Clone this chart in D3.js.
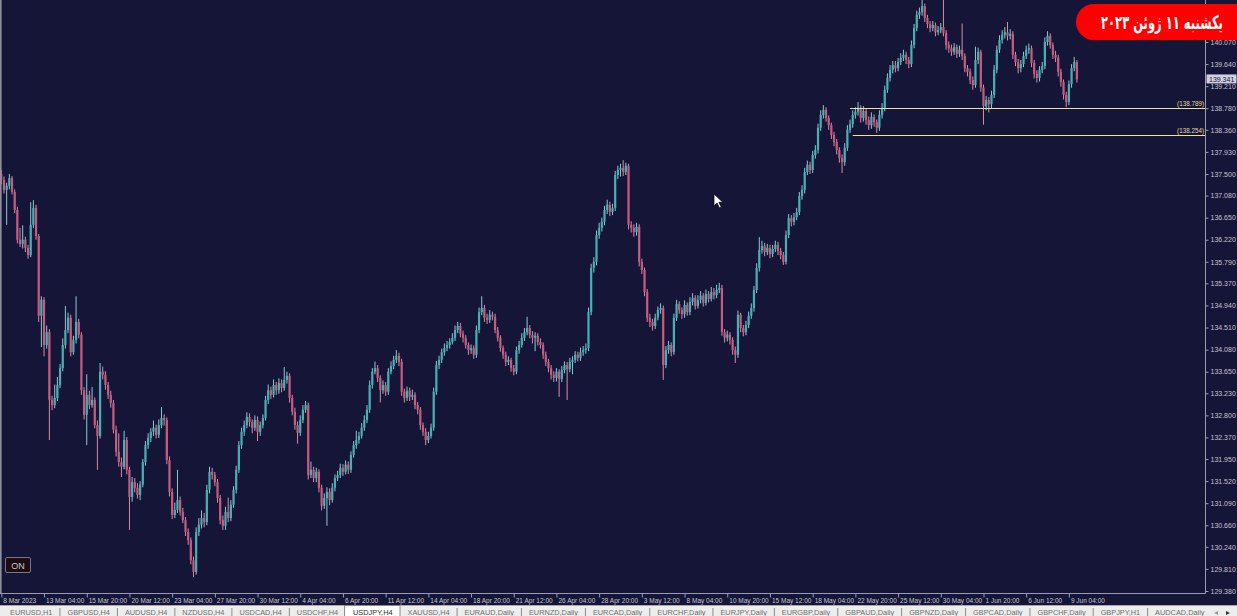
<!DOCTYPE html>
<html><head><meta charset="utf-8">
<script src="https://cdn.jsdelivr.net/npm/d3@7"></script>
<style>html,body{margin:0;padding:0;background:#151538;overflow:hidden}</style>
</head><body>
<svg id="chart" width="1237" height="616"></svg>
<script>
// ---------------- DATA (USDJPY, H4) ----------------
const firstOpen = 137.50;
const closes = [
137.38,137.19,137.27,137.42,137.15,136.80,136.22,136.14,136.22,136.06,
135.92,136.51,136.84,136.29,134.74,135.05,134.17,134.42,133.10,133.00,
133.14,133.39,133.72,134.17,134.46,134.70,134.03,134.27,134.62,134.37,
133.29,132.81,133.20,133.00,133.10,132.61,132.40,133.65,133.59,133.39,
133.20,133.04,132.52,132.09,131.89,131.80,132.32,131.74,131.21,131.50,
131.39,131.25,131.45,131.89,132.22,132.36,132.48,132.56,132.42,132.61,
132.75,132.71,131.93,131.31,130.86,130.96,131.15,130.92,130.76,130.53,
130.37,129.98,129.75,130.53,130.67,130.80,130.72,131.35,131.70,131.64,
131.50,131.19,130.76,130.65,130.92,130.80,131.06,131.35,131.74,132.22,
132.48,132.61,132.77,132.67,132.56,132.71,132.48,132.61,132.75,133.10,
133.29,133.20,133.39,133.29,133.43,133.33,133.49,133.57,133.14,132.87,
132.61,132.46,132.71,132.91,133.00,131.64,131.74,131.58,131.70,131.39,
131.04,131.19,131.31,131.15,131.39,131.58,131.64,131.78,131.70,131.84,
131.74,132.03,132.22,132.32,132.40,132.56,132.71,132.91,133.39,133.65,
133.72,133.53,133.29,133.39,133.26,133.65,133.76,133.88,133.96,133.84,
133.26,133.14,133.28,133.16,133.20,133.00,132.91,132.61,132.48,132.32,
132.40,132.56,133.26,133.78,133.88,134.03,134.11,134.17,134.23,134.31,
134.46,134.54,134.39,134.31,134.17,134.07,134.11,133.98,134.46,134.81,
134.89,134.70,134.66,134.76,134.72,134.46,134.31,134.11,133.98,133.84,
133.88,133.72,133.65,134.07,134.17,134.31,134.42,134.50,134.37,134.31,
134.35,134.23,134.17,133.98,133.84,133.72,133.59,133.53,133.65,133.51,
133.68,133.78,133.70,133.84,133.88,133.98,133.92,134.03,134.07,134.11,
134.81,135.67,135.79,136.31,136.45,136.57,136.80,136.90,136.76,136.84,
137.48,137.58,137.62,137.54,137.66,136.51,136.45,136.37,136.47,135.79,
135.63,135.20,134.70,134.62,134.54,134.70,134.85,134.89,133.78,134.07,
134.17,134.03,134.70,134.97,134.85,134.77,134.95,134.81,135.01,135.09,
134.93,135.05,135.13,134.99,135.16,135.07,135.20,135.14,135.24,135.28,
134.42,134.31,134.37,134.27,134.07,133.98,134.76,134.50,134.42,134.56,
134.74,134.89,135.24,135.67,136.02,136.10,135.98,136.06,135.94,136.04,
136.12,136.00,135.92,135.79,136.31,136.64,136.57,136.66,136.76,137.07,
137.19,137.54,137.68,137.58,137.87,137.97,138.40,138.65,138.75,138.59,
138.45,138.26,138.12,137.97,137.81,137.73,138.01,138.36,138.47,138.65,
138.71,138.79,138.59,138.73,138.55,138.45,138.61,138.51,138.40,138.65,
138.79,139.14,139.37,139.53,139.62,139.56,139.68,139.76,139.82,139.72,
139.64,140.01,140.34,140.60,140.65,140.77,140.54,140.42,140.34,140.40,
140.26,140.30,140.36,140.25,140.01,139.95,139.88,139.97,139.84,139.92,
139.80,139.56,139.49,139.33,139.23,139.72,139.88,139.18,138.82,138.94,
138.86,139.04,139.53,139.92,140.11,140.21,140.26,140.19,140.23,139.82,
139.68,139.56,139.64,139.80,139.92,139.95,139.66,139.45,139.37,139.53,
139.60,140.07,140.19,140.01,139.82,139.76,139.49,139.29,139.04,138.90,
139.25,139.56,139.68,139.34];
const highs = [
137.58,137.45,137.33,137.50,137.46,137.20,136.86,136.45,136.50,136.28,
136.12,136.95,136.99,136.90,136.33,135.12,135.10,134.55,134.48,133.18,
133.40,133.55,133.80,134.30,134.93,134.80,134.76,134.35,135.12,134.68,
134.42,133.35,133.60,133.28,133.35,133.15,132.70,133.82,133.75,133.66,
133.45,133.28,133.10,132.60,132.45,131.98,132.50,132.38,131.80,131.60,
131.58,131.48,131.52,131.95,132.30,132.45,132.55,132.70,132.62,132.72,
132.96,132.82,132.76,132.00,131.38,131.10,131.74,131.22,131.00,130.82,
130.60,130.42,130.05,130.62,130.80,130.95,130.90,131.45,131.80,131.78,
131.70,131.56,131.25,130.85,131.02,131.20,131.15,131.42,131.82,132.30,
132.56,132.70,132.86,132.84,132.72,132.80,132.78,132.68,132.82,133.18,
133.40,133.36,133.50,133.45,133.52,133.50,133.74,133.65,133.62,133.20,
132.95,132.68,132.80,133.00,133.08,133.05,131.90,131.80,131.78,131.75,
131.45,131.28,131.40,131.38,131.48,131.65,131.72,131.86,131.85,131.92,
131.90,132.10,132.30,132.50,132.48,132.65,132.80,133.00,133.48,133.72,
133.85,133.78,133.58,133.48,133.45,133.72,133.85,133.96,134.07,134.02,
133.90,133.32,133.36,133.34,133.30,133.25,133.06,132.96,132.66,132.55,
132.48,132.64,133.34,133.86,133.96,134.10,134.20,134.25,134.30,134.40,
134.55,134.62,134.60,134.45,134.36,134.22,134.18,134.16,134.55,134.90,
135.12,134.95,134.78,134.85,134.82,134.78,134.52,134.36,134.16,134.04,
133.95,133.92,133.78,134.14,134.25,134.40,134.50,134.72,134.56,134.44,
134.42,134.40,134.30,134.22,134.04,133.90,133.78,133.66,133.72,133.70,
133.76,133.85,133.84,133.92,133.95,134.05,134.04,134.12,134.15,134.20,
134.90,135.75,135.88,136.40,136.55,136.65,136.88,137.00,136.96,136.92,
137.56,137.66,137.70,137.77,137.72,137.70,136.58,136.52,136.55,136.52,
135.85,135.68,135.26,134.78,134.68,134.78,134.92,134.98,134.94,134.15,
134.25,134.22,134.78,135.05,135.02,134.90,135.04,135.00,135.10,135.18,
135.14,135.14,135.22,135.18,135.25,135.22,135.30,135.28,135.34,135.38,
135.34,134.48,134.45,134.42,134.32,134.14,134.84,134.80,134.56,134.64,
134.82,134.98,135.32,135.76,136.27,136.20,136.16,136.14,136.12,136.12,
136.20,136.18,136.06,135.98,136.40,136.72,136.70,136.74,136.84,137.15,
137.28,137.62,137.76,137.74,137.95,138.06,138.48,138.74,138.84,138.80,
138.64,138.50,138.32,138.18,138.02,137.88,138.10,138.45,138.56,138.74,
138.80,138.90,138.84,138.82,138.78,138.62,138.70,138.66,138.56,138.74,
138.88,139.22,139.46,139.62,139.70,139.70,139.76,139.85,139.92,139.88,
139.78,140.10,140.42,140.68,140.74,140.89,140.82,140.60,140.48,140.48,
140.45,140.38,140.44,140.89,140.30,140.08,140.02,140.05,140.02,140.00,
140.43,139.85,139.62,139.55,139.40,139.98,139.96,139.92,139.24,139.02,
139.00,139.12,139.62,140.00,140.20,140.30,140.36,140.46,140.32,140.28,
139.88,139.74,139.72,139.88,140.00,140.04,140.00,139.72,139.52,139.60,
139.68,140.16,140.28,140.24,140.06,139.90,139.82,139.55,139.34,139.10,
139.32,139.64,139.78,139.72];
const lows = [
137.30,137.12,136.51,137.20,137.10,136.74,136.15,136.08,136.05,135.98,
135.85,135.88,136.45,136.22,134.62,134.13,133.95,134.10,132.32,132.90,
132.94,133.08,133.33,133.66,134.10,134.40,133.95,133.98,134.20,134.30,
133.20,132.72,132.22,132.92,132.95,132.55,131.74,132.35,133.50,133.30,
133.12,132.95,132.45,132.00,131.80,131.60,131.75,131.65,130.57,131.12,
131.30,131.18,131.15,131.40,131.82,132.15,132.28,132.40,132.35,132.36,
132.55,132.60,131.85,131.22,130.78,130.80,130.90,130.85,130.70,130.45,
130.28,129.90,129.65,129.70,130.45,130.60,130.62,130.66,131.28,131.55,
131.42,131.10,130.68,130.57,130.57,130.72,130.74,131.00,131.28,131.68,
132.15,132.40,132.55,132.58,132.45,132.50,132.30,132.40,132.55,132.70,
133.02,133.12,133.15,133.20,133.22,133.25,133.28,133.42,133.05,132.80,
132.52,132.25,132.40,132.65,132.85,131.55,131.58,131.50,131.50,131.30,
130.95,130.98,130.65,131.05,131.10,131.32,131.52,131.58,131.62,131.65,
131.66,131.68,131.98,132.15,132.25,132.35,132.50,132.65,132.85,133.32,
133.60,133.45,133.05,133.22,133.18,133.20,133.60,133.70,133.82,133.76,
133.18,133.05,133.08,133.08,133.10,132.92,132.82,132.52,132.40,132.22,
132.26,132.35,132.50,133.20,133.70,133.82,133.96,134.05,134.10,134.18,
134.25,134.40,134.32,134.22,134.10,133.98,134.00,133.90,133.92,134.40,
134.75,134.62,134.58,134.60,134.65,134.40,134.24,134.04,133.90,133.76,
133.78,133.65,133.58,133.60,134.00,134.12,134.25,134.36,134.30,134.20,
134.05,134.16,134.10,133.90,133.76,133.64,133.50,133.45,133.46,133.16,
133.45,133.62,133.10,133.64,133.60,133.82,133.85,133.86,133.96,134.00,
134.05,134.75,135.58,135.72,136.24,136.38,136.50,136.72,136.68,136.70,
136.78,137.40,137.45,137.46,137.48,136.42,136.36,136.28,136.30,135.70,
135.55,135.12,134.62,134.52,134.45,134.48,134.65,134.78,133.49,133.72,
134.00,133.95,133.98,134.64,134.78,134.68,134.70,134.74,134.75,134.94,
134.86,134.88,134.98,134.92,134.94,135.00,135.02,135.06,135.08,135.18,
134.35,134.22,134.24,134.18,133.98,133.82,133.92,134.42,134.34,134.36,
134.50,134.68,134.82,135.18,135.60,135.95,135.90,135.92,135.86,135.88,
135.98,135.92,135.84,135.73,135.74,136.25,136.48,136.50,136.60,136.70,
137.00,137.12,137.48,137.50,137.52,137.80,137.90,138.34,138.58,138.52,
138.36,138.18,138.04,137.88,137.72,137.52,137.66,137.95,138.30,138.40,
138.58,138.64,138.50,138.52,138.46,138.36,138.38,138.42,138.30,138.34,
138.58,138.72,139.08,139.30,139.46,139.48,139.50,139.62,139.70,139.64,
139.56,139.58,139.95,140.28,140.52,140.58,140.46,140.34,140.26,140.28,
140.18,140.20,140.24,140.18,139.92,139.86,139.80,139.82,139.76,139.78,
139.72,139.48,139.40,139.25,139.14,139.18,139.64,139.10,138.46,138.74,
138.70,138.78,138.98,139.46,139.86,140.04,140.14,140.10,140.12,139.74,
139.60,139.46,139.48,139.58,139.74,139.84,139.58,139.36,139.28,139.30,
139.46,139.54,140.00,139.94,139.74,139.68,139.40,139.20,138.95,138.80,
138.84,139.18,139.50,139.28];

const xTickBars = [0,16,32,48,64,80,96,112,128,144,160,176,192,208,224,240,256,272,288,304,320,336,352,368,384,400];
const xTickLabels = ["8 Mar 2023","13 Mar 04:00","15 Mar 20:00","20 Mar 12:00","23 Mar 04:00","27 Mar 20:00","30 Mar 12:00","4 Apr 04:00","6 Apr 20:00","11 Apr 12:00","14 Apr 04:00","18 Apr 20:00","21 Apr 12:00","26 Apr 04:00","28 Apr 20:00","3 May 12:00","8 May 04:00","10 May 20:00","15 May 12:00","18 May 04:00","22 May 20:00","25 May 12:00","30 May 04:00","1 Jun 20:00","6 Jun 12:00","9 Jun 04:00"];
const yTickLabels = ["140.070","139.640","139.210","138.780","138.360","137.930","137.500","137.080","136.650","136.220","135.790","135.370","134.940","134.510","134.080","133.650","133.230","132.800","132.370","131.950","131.520","131.090","130.660","130.240","129.810","129.380"];
const levelPrices = [138.789, 138.254];
const levelStartBars = [318, 319];
const lastPrice = 139.341;
const tabLabels = ["EURUSD,H1","GBPUSD,H4","AUDUSD,H4","NZDUSD,H4","USDCAD,H4","USDCHF,H4","USDJPY,H4","XAUUSD,H4","EURAUD,Daily","EURNZD,Daily","EURCAD,Daily","EURCHF,Daily","EURJPY,Daily","EURGBP,Daily","GBPAUD,Daily","GBPNZD,Daily","GBPCAD,Daily","GBPCHF,Daily","GBPJPY,H1","AUDCAD,Daily"];
const activeTab = "USDJPY,H4";
const badgeText = "یکشنبه ۱۱ ژوئن ۲۰۲۳";

// ---------------- DRAW ----------------
const W = 1237, H = 616, plotR = 1205, plotB = 593;
const BG = "#151538", BULL = "#46b0b3", BEAR = "#c65c7f", BULLW = "#86cccf", BEARW = "#d88ba5";
const FONT = "Liberation Sans, Arial, sans-serif";
const svg = d3.select("#chart");
svg.append("rect").attr("width", W).attr("height", H).attr("fill", BG);

const x = d3.scaleLinear().domain([-0.5, 451]).range([0, plotR]);
const y = d3.scaleLinear().domain([129.38, 140.07]).range([591, 42]);

svg.append("defs").append("clipPath").attr("id", "clip")
  .append("rect").attr("x", 0).attr("y", 0).attr("width", plotR).attr("height", plotB);

const data = closes.map((c, i) => ({ i, o: i ? closes[i - 1] : firstOpen, h: highs[i], l: lows[i], c }));
const plot = svg.append("g").attr("clip-path", "url(#clip)");

plot.append("g").selectAll("rect").data(data).join("rect")
  .attr("x", d => x(d.i) - 0.5).attr("width", 1)
  .attr("y", d => y(Math.max(d.h, d.o, d.c)))
  .attr("height", d => Math.max(1, y(Math.min(d.l, d.o, d.c)) - y(Math.max(d.h, d.o, d.c))))
  .attr("fill", d => d.c >= d.o ? BULLW : BEARW);

plot.append("g").selectAll("rect").data(data).join("rect")
  .attr("x", d => x(d.i) - 1.1).attr("width", 2.2)
  .attr("y", d => y(Math.max(d.o, d.c)))
  .attr("height", d => Math.max(1, Math.abs(y(d.o) - y(d.c))))
  .attr("fill", d => d.c >= d.o ? BULL : BEAR);

// horizontal levels
levelPrices.forEach((p, k) => {
  plot.append("line").attr("x1", x(levelStartBars[k])).attr("x2", plotR)
    .attr("y1", Math.round(y(p)) + 0.5).attr("y2", Math.round(y(p)) + 0.5)
    .attr("stroke", "#ece49a").attr("stroke-width", 1);
  svg.append("text").attr("x", plotR - 1).attr("y", y(p) - 2)
    .attr("text-anchor", "end").attr("font-family", FONT)
    .attr("font-size", 6.3).attr("fill", "#e6dc98").text("(" + p.toFixed(3) + ")");
});

// left border
svg.append("rect").attr("x", 0).attr("y", 0).attr("width", 1.6).attr("height", plotB).attr("fill", "#8f8fa0");

// axes lines
svg.append("line").attr("x1", plotR + 0.5).attr("x2", plotR + 0.5).attr("y1", 0).attr("y2", plotB + 0.5)
  .attr("stroke", "#9c9cb0").attr("stroke-width", 1);
svg.append("line").attr("x1", 0).attr("x2", plotR + 0.5).attr("y1", plotB + 0.5).attr("y2", plotB + 0.5)
  .attr("stroke", "#9c9cb0").attr("stroke-width", 1);

// y axis
const yAxis = d3.axisRight(y).tickValues(yTickLabels.map(Number))
  .tickFormat((d, i) => yTickLabels[i]).tickSize(3).tickSizeOuter(0).tickPadding(2);
svg.append("g").attr("transform", `translate(${plotR + 0.5},0)`).call(yAxis)
  .call(g => g.select(".domain").remove())
  .call(g => g.selectAll("line").attr("stroke", "#9c9cb0"))
  .call(g => g.selectAll("text").attr("fill", "#c4c4d2").attr("font-size", 7)
    .attr("font-family", FONT));

// x axis
const xAxis = d3.axisBottom(x).tickValues(xTickBars)
  .tickFormat((d, i) => xTickLabels[i]).tickSize(4).tickSizeOuter(0).tickPadding(1);
svg.append("g").attr("transform", `translate(0,${plotB + 0.5})`).call(xAxis)
  .call(g => g.select(".domain").remove())
  .call(g => g.selectAll("line").attr("stroke", "#9c9cb0"))
  .call(g => g.selectAll("text").attr("fill", "#c4c4d2").attr("font-size", 6.5)
    .attr("font-family", FONT)
    .attr("text-anchor", "start").attr("dx", 1.5));

// current price label
const lp = y(lastPrice);
svg.append("rect").attr("x", plotR + 1.5).attr("y", lp - 5).attr("width", 30).attr("height", 9)
  .attr("fill", "#cfd0e0");
svg.append("text").attr("x", plotR + 4).attr("y", lp + 2.5)
  .attr("font-family", FONT).attr("font-size", 7)
  .attr("fill", "#151538").text(lastPrice.toFixed(3));

// "ON" box
svg.append("rect").attr("x", 5.5).attr("y", 557.5).attr("width", 25).attr("height", 15)
  .attr("fill", "#1b0d12").attr("stroke", "#77778a").attr("rx", 1.5);
svg.append("text").attr("x", 18).attr("y", 568.5).attr("text-anchor", "middle")
  .attr("font-family", FONT).attr("font-size", 9)
  .attr("fill", "#c8c8d0").text("ON");

// mouse cursor
svg.append("path").attr("d", "M714,194 L714,206 L717,203 L719.5,208 L721.3,207.2 L718.9,202.3 L722.8,202.3 Z")
  .attr("fill", "#ffffff").attr("stroke", "#000000").attr("stroke-width", 0.7);

// tab bar
const tabBar = svg.append("g");
tabBar.append("rect").attr("x", 0).attr("y", 605).attr("width", W).attr("height", 11).attr("fill", "#ededed");
tabBar.append("line").attr("x1", 0).attr("x2", W).attr("y1", 605.5).attr("y2", 605.5).attr("stroke", "#a9a9a9");
let cx = 10;
tabLabels.forEach((t, k) => {
  const isActive = t === activeTab;
  const txt = tabBar.append("text").attr("x", cx).attr("y", 614.5)
    .attr("font-family", FONT).attr("font-size", 7.35)
    .attr("fill", isActive ? "#2a2a2a" : "#6d6d6d").text(t);
  const w = txt.node().getComputedTextLength();
  if (isActive) {
    tabBar.insert("rect", "text").attr("x", cx - 8.5).attr("y", 605.5).attr("width", w + 16).attr("height", 12)
      .attr("fill", "#ffffff").attr("stroke", "#8a8a8a");
    cx = cx + w + 15;
  } else {
    const sx = cx + w + 7;
    if (k < tabLabels.length - 1 && tabLabels[k + 1] !== activeTab) {
      tabBar.append("line").attr("x1", sx + 0.5).attr("x2", sx + 0.5).attr("y1", 608).attr("y2", 616)
        .attr("stroke", "#8a8a8a");
    }
    cx = sx + 8;
  }
});
tabBar.append("path").attr("d", "M1218,611 L1214,613 L1218,615 Z").attr("fill", "#999");
tabBar.append("path").attr("d", "M1226,611 L1230,613 L1226,615 Z").attr("fill", "#333");

// date badge
svg.append("rect").attr("x", 1076).attr("y", 4).attr("width", 200).attr("height", 36).attr("rx", 18)
  .attr("fill", "#fe0000");
const bg = svg.append("g").attr("transform", "translate(1162,29)");
const bt = bg.append("text").attr("x", 0).attr("y", 0).attr("text-anchor", "middle")
  .attr("font-family", "DejaVu Sans, sans-serif").attr("font-weight", "bold").attr("font-size", 19)
  .attr("fill", "#ffffff").text(badgeText);
const bw = bt.node().getComputedTextLength();
const sx = Math.min(1, 122 / bw);
bg.attr("transform", `translate(1162,29) scale(${sx},1)`);
</script>
</body></html>
